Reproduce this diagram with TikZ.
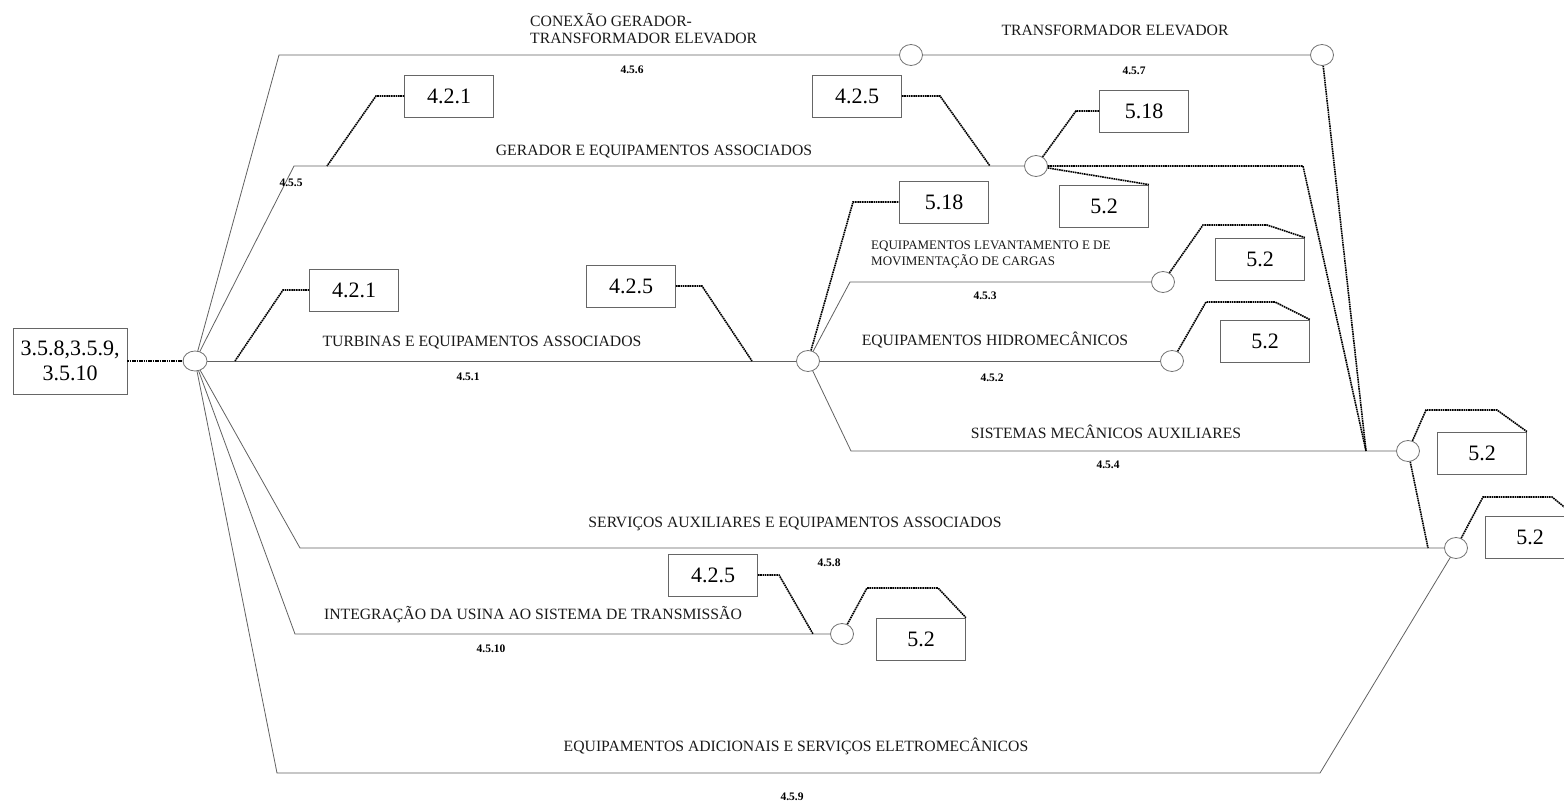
\documentclass[tikz,border=0pt]{standalone}
\usepackage{fontspec}
\setmainfont{Liberation Serif}
\usetikzlibrary{shapes.geometric}

\tikzset{
  wire/.style={draw=black!62, line width=0.8pt},
  link/.style={draw=black, line width=1.6pt, dash pattern=on 1.6pt off 0.7pt},
  junc/.style={ellipse, draw=black!55, line width=0.8pt, fill=white,
               minimum width=23pt, minimum height=21pt, inner sep=0pt},
  refbox/.style={rectangle, draw=black!60, line width=0.8pt, fill=white,
                 minimum width=89pt, minimum height=42pt, inner sep=0pt,
                 font=\fontsize{22}{26}\selectfont},
  title/.style={inner sep=0pt, text=black!90, font=\fontsize{15.7}{17}\selectfont},
  smalltitle/.style={inner sep=0pt, text=black!90, align=left,
                     font=\fontsize{13}{16}\selectfont},
  code/.style={inner sep=0pt, font=\bfseries\fontsize{11.5}{13}\selectfont}
}

\begin{document}
\begin{tikzpicture}[x=1pt, y=-1pt]
\useasboundingbox (0,0) rectangle (1564,805);

% root reference box and main junction
\node[refbox, minimum width=114pt, minimum height=66pt, align=center,
      font=\fontsize{22}{25}\selectfont] (rb) at (70,361) {3.5.8,3.5.9,\\3.5.10};

% bend points of the branches
\coordinate (ctop)  at (279,55);
\coordinate (cger)  at (294,166);
\coordinate (cserv) at (300,548);
\coordinate (cint)  at (295,634);
\coordinate (cbot)  at (277,773);
\coordinate (cbotr) at (1320,773);
\coordinate (clev)  at (850,282);
\coordinate (csis)  at (851,451);
\coordinate (cconv) at (1366,451);
\coordinate (cserd) at (1428,548);
\coordinate (cgerr) at (1303,166);

% solid branches
\draw[wire] (195,361) -- (ctop) -- (1322,55);
\draw[wire] (195,361) -- (cger) -- (1036,166);
\draw[wire] (195,361) -- (808,361);
\draw[wire] (808,361) -- (clev) -- (1163,282);
\draw[wire] (808,361) -- (1172,361);
\draw[wire] (808,361) -- (csis) -- (1408,451);
\draw[wire] (195,361) -- (cserv) -- (1456,548);
\draw[wire] (195,361) -- (cint) -- (842,634);
\draw[wire] (195,361) -- (cbot) -- (cbotr) -- (1456,548);

% junctions
\node[junc, minimum width=24pt, minimum height=20pt] (r) at (195,361) {};
\node[junc] (jcon) at (911,55) {};
\node[junc] (jtra) at (1322,55) {};
\node[junc] (jger) at (1036,166) {};
\node[junc] (jtur) at (808,361) {};
\node[junc] (jlev) at (1163,282) {};
\node[junc] (jhid) at (1172,361) {};
\node[junc] (jsis) at (1408,451) {};
\node[junc] (jser) at (1456,548) {};
\node[junc] (jint) at (842,634) {};

% reference boxes
\node[refbox] (b1)  at (449,96)   {4.2.1};
\node[refbox] (b2)  at (857,96)   {4.2.5};
\node[refbox] (b3)  at (1144,111) {5.18};
\node[refbox] (b4)  at (1104,206) {5.2};
\node[refbox] (b5)  at (354,290)  {4.2.1};
\node[refbox] (b6)  at (631,286)  {4.2.5};
\node[refbox] (b7)  at (944,202)  {5.18};
\node[refbox] (b8)  at (1260,259) {5.2};
\node[refbox] (b9)  at (1265,341) {5.2};
\node[refbox] (b10) at (1482,453) {5.2};
\node[refbox] (b11) at (1530,537) {5.2};
\node[refbox] (b12) at (713,575)  {4.2.5};
\node[refbox] (b13) at (921,639)  {5.2};

% dotted cross references
\draw[link] (rb.east) -- (r);
\draw[link] (b1.west) -- (376,96) -- (327,166);
\draw[link] (b2.east) -- (940,96) -- (990,166);
\draw[link] (jger) -- (1076,111) -- (b3.west);
\draw[link] (jger) -- (b4.north east);
\draw[link] (jger) -- (cgerr) -- (cconv);
\draw[link] (jtra) -- (cconv);
\draw[link] (b5.west) -- (283,290) -- (235,361);
\draw[link] (b6.east) -- (702,286) -- (752,361);
\draw[link] (jtur) -- (853,202) -- (b7.west);
\draw[link] (jlev) -- (1203,225) -- (1267,225) -- (b8.north east);
\draw[link] (jhid) -- (1206,302) -- (1275,302) -- (b9.north east);
\draw[link] (jsis) -- (1426,410) -- (1497,410) -- (b10.north east);
\draw[link] (jsis) -- (cserd);
\draw[link] (jser) -- (1483,497) -- (1552,497) -- (b11.north east);
\draw[link] (b12.east) -- (779,575) -- (813,634);
\draw[link] (jint) -- (867,588) -- (938,588) -- (b13.north east);

% branch titles
\node[title, align=left, anchor=west] (tcon) at (530,29)
  {CONEXÃO GERADOR-\\TRANSFORMADOR ELEVADOR};
\node[title] (ttra) at (1115,30)  {TRANSFORMADOR ELEVADOR};
\node[title] (tger) at (654,152)  {GERADOR E EQUIPAMENTOS ASSOCIADOS};
\node[smalltitle, anchor=west] (tlev) at (871,255)
  {EQUIPAMENTOS LEVANTAMENTO E DE\\MOVIMENTAÇÃO DE CARGAS};
\node[title] (ttur) at (482,343)  {TURBINAS E EQUIPAMENTOS ASSOCIADOS};
\node[title] (thid) at (995,340)  {EQUIPAMENTOS HIDROMECÂNICOS};
\node[title] (tsis) at (1106,432) {SISTEMAS MECÂNICOS AUXILIARES};
\node[title] (tser) at (795,524)  {SERVIÇOS AUXILIARES E EQUIPAMENTOS ASSOCIADOS};
\node[title] (tint) at (533,615)  {INTEGRAÇÃO DA USINA AO SISTEMA DE TRANSMISSÃO};
\node[title] (tadi) at (796,746)  {EQUIPAMENTOS ADICIONAIS E SERVIÇOS ELETROMECÂNICOS};

% branch codes
\node[code] (k456) at (632,70)  {4.5.6};
\node[code] (k457) at (1134,71) {4.5.7};
\node[code] (k455) at (291,183) {4.5.5};
\node[code] (k453) at (985,296) {4.5.3};
\node[code] (k451) at (468,377) {4.5.1};
\node[code] (k452) at (992,378) {4.5.2};
\node[code] (k454) at (1108,465) {4.5.4};
\node[code] (k458) at (829,563) {4.5.8};
\node[code] (k4510) at (491,649) {4.5.10};
\node[code] (k459) at (792,797) {4.5.9};
\end{tikzpicture}
\end{document}
